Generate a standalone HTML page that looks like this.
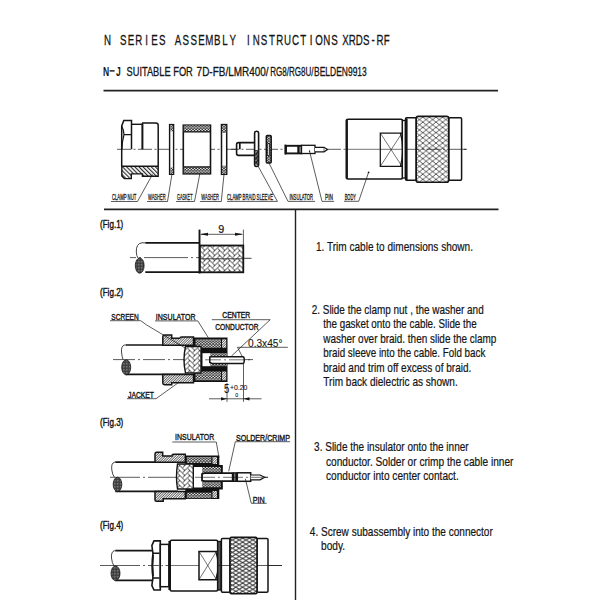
<!DOCTYPE html>
<html><head><meta charset="utf-8">
<style>
html,body{margin:0;padding:0;background:#fff;width:600px;height:600px;overflow:hidden}
svg{display:block}
.t{font-family:"Liberation Sans",sans-serif;fill:#151515}
.b{stroke:#151515;stroke-width:0.22}
.m{font-family:"Liberation Mono",monospace;fill:#151515;stroke:#151515;stroke-width:0.3}
.ti{font-family:"Liberation Sans",sans-serif;font-size:15.2px;fill:#151515;stroke:#151515;stroke-width:0.3}
.s2{stroke:#151515;stroke-width:0.3}
.ln{stroke:#222;fill:none}
</style></head><body>
<svg width="600" height="600" viewBox="0 0 600 600">
<defs>
<pattern id="hb" width="2.9" height="3" patternUnits="userSpaceOnUse" patternTransform="rotate(-45)"><rect width="2.9" height="3" fill="#fff"/><rect x="0" y="0" width="1.15" height="3" fill="#2a2a2a"/></pattern>
<pattern id="hf" width="1.75" height="3" patternUnits="userSpaceOnUse" patternTransform="rotate(45)"><rect width="1.75" height="3" fill="#fff"/><rect x="0" y="0" width="0.75" height="3" fill="#444"/></pattern>
<pattern id="dots" width="3.1" height="2.6" patternUnits="userSpaceOnUse"><rect width="3.1" height="2.6" fill="#2a2a2a"/><ellipse cx="0.78" cy="0.65" rx="0.8" ry="0.7" fill="#fff"/><ellipse cx="2.33" cy="1.95" rx="0.8" ry="0.7" fill="#fff"/></pattern>
<pattern id="knurl" width="6.6" height="5.2" patternUnits="userSpaceOnUse" x="416.2" y="117"><rect width="6.6" height="5.2" fill="#fff"/><path d="M0 0L6.6 5.2M0 5.2L6.6 0" stroke="#333" stroke-width="0.8"/></pattern>
<pattern id="knurl2" width="6.8" height="4.1" patternUnits="userSpaceOnUse" x="229" y="538"><rect width="6.8" height="4.1" fill="#fff"/><path d="M0 0L6.8 4.1M0 4.1L6.8 0" stroke="#333" stroke-width="0.95"/></pattern>
<pattern id="braid" width="10" height="5" patternUnits="userSpaceOnUse" x="199.8" y="245.5"><rect width="10" height="5" fill="#fff"/><g transform="rotate(45) scale(3.5355)" fill="#fff" stroke="#333" stroke-width="0.26"><rect x="-10" y="2" width="2" height="1"/><rect x="-8" y="1" width="1" height="2"/><rect x="-8" y="0" width="2" height="1"/><rect x="-6" y="-1" width="1" height="2"/><rect x="-6" y="-2" width="2" height="1"/><rect x="-4" y="-3" width="1" height="2"/><rect x="-4" y="-4" width="2" height="1"/><rect x="-2" y="-5" width="1" height="2"/><rect x="-2" y="-6" width="2" height="1"/><rect x="0" y="-7" width="1" height="2"/><rect x="0" y="-8" width="2" height="1"/><rect x="2" y="-9" width="1" height="2"/><rect x="2" y="-10" width="2" height="1"/><rect x="4" y="-11" width="1" height="2"/><rect x="-9" y="3" width="2" height="1"/><rect x="-7" y="2" width="1" height="2"/><rect x="-7" y="1" width="2" height="1"/><rect x="-5" y="0" width="1" height="2"/><rect x="-5" y="-1" width="2" height="1"/><rect x="-3" y="-2" width="1" height="2"/><rect x="-3" y="-3" width="2" height="1"/><rect x="-1" y="-4" width="1" height="2"/><rect x="-1" y="-5" width="2" height="1"/><rect x="1" y="-6" width="1" height="2"/><rect x="1" y="-7" width="2" height="1"/><rect x="3" y="-8" width="1" height="2"/><rect x="3" y="-9" width="2" height="1"/><rect x="5" y="-10" width="1" height="2"/><rect x="-8" y="4" width="2" height="1"/><rect x="-6" y="3" width="1" height="2"/><rect x="-6" y="2" width="2" height="1"/><rect x="-4" y="1" width="1" height="2"/><rect x="-4" y="0" width="2" height="1"/><rect x="-2" y="-1" width="1" height="2"/><rect x="-2" y="-2" width="2" height="1"/><rect x="0" y="-3" width="1" height="2"/><rect x="0" y="-4" width="2" height="1"/><rect x="2" y="-5" width="1" height="2"/><rect x="2" y="-6" width="2" height="1"/><rect x="4" y="-7" width="1" height="2"/><rect x="4" y="-8" width="2" height="1"/><rect x="6" y="-9" width="1" height="2"/><rect x="-7" y="5" width="2" height="1"/><rect x="-5" y="4" width="1" height="2"/><rect x="-5" y="3" width="2" height="1"/><rect x="-3" y="2" width="1" height="2"/><rect x="-3" y="1" width="2" height="1"/><rect x="-1" y="0" width="1" height="2"/><rect x="-1" y="-1" width="2" height="1"/><rect x="1" y="-2" width="1" height="2"/><rect x="1" y="-3" width="2" height="1"/><rect x="3" y="-4" width="1" height="2"/><rect x="3" y="-5" width="2" height="1"/><rect x="5" y="-6" width="1" height="2"/><rect x="5" y="-7" width="2" height="1"/><rect x="7" y="-8" width="1" height="2"/><rect x="-6" y="6" width="2" height="1"/><rect x="-4" y="5" width="1" height="2"/><rect x="-4" y="4" width="2" height="1"/><rect x="-2" y="3" width="1" height="2"/><rect x="-2" y="2" width="2" height="1"/><rect x="0" y="1" width="1" height="2"/><rect x="0" y="0" width="2" height="1"/><rect x="2" y="-1" width="1" height="2"/><rect x="2" y="-2" width="2" height="1"/><rect x="4" y="-3" width="1" height="2"/><rect x="4" y="-4" width="2" height="1"/><rect x="6" y="-5" width="1" height="2"/><rect x="6" y="-6" width="2" height="1"/><rect x="8" y="-7" width="1" height="2"/><rect x="-5" y="7" width="2" height="1"/><rect x="-3" y="6" width="1" height="2"/><rect x="-3" y="5" width="2" height="1"/><rect x="-1" y="4" width="1" height="2"/><rect x="-1" y="3" width="2" height="1"/><rect x="1" y="2" width="1" height="2"/><rect x="1" y="1" width="2" height="1"/><rect x="3" y="0" width="1" height="2"/><rect x="3" y="-1" width="2" height="1"/><rect x="5" y="-2" width="1" height="2"/><rect x="5" y="-3" width="2" height="1"/><rect x="7" y="-4" width="1" height="2"/><rect x="7" y="-5" width="2" height="1"/><rect x="9" y="-6" width="1" height="2"/><rect x="-4" y="8" width="2" height="1"/><rect x="-2" y="7" width="1" height="2"/><rect x="-2" y="6" width="2" height="1"/><rect x="0" y="5" width="1" height="2"/><rect x="0" y="4" width="2" height="1"/><rect x="2" y="3" width="1" height="2"/><rect x="2" y="2" width="2" height="1"/><rect x="4" y="1" width="1" height="2"/><rect x="4" y="0" width="2" height="1"/><rect x="6" y="-1" width="1" height="2"/><rect x="6" y="-2" width="2" height="1"/><rect x="8" y="-3" width="1" height="2"/><rect x="8" y="-4" width="2" height="1"/><rect x="10" y="-5" width="1" height="2"/><rect x="-3" y="9" width="2" height="1"/><rect x="-1" y="8" width="1" height="2"/><rect x="-1" y="7" width="2" height="1"/><rect x="1" y="6" width="1" height="2"/><rect x="1" y="5" width="2" height="1"/><rect x="3" y="4" width="1" height="2"/><rect x="3" y="3" width="2" height="1"/><rect x="5" y="2" width="1" height="2"/><rect x="5" y="1" width="2" height="1"/><rect x="7" y="0" width="1" height="2"/><rect x="7" y="-1" width="2" height="1"/><rect x="9" y="-2" width="1" height="2"/><rect x="9" y="-3" width="2" height="1"/><rect x="11" y="-4" width="1" height="2"/><rect x="-2" y="10" width="2" height="1"/><rect x="0" y="9" width="1" height="2"/><rect x="0" y="8" width="2" height="1"/><rect x="2" y="7" width="1" height="2"/><rect x="2" y="6" width="2" height="1"/><rect x="4" y="5" width="1" height="2"/><rect x="4" y="4" width="2" height="1"/><rect x="6" y="3" width="1" height="2"/><rect x="6" y="2" width="2" height="1"/><rect x="8" y="1" width="1" height="2"/><rect x="8" y="0" width="2" height="1"/><rect x="10" y="-1" width="1" height="2"/><rect x="10" y="-2" width="2" height="1"/><rect x="12" y="-3" width="1" height="2"/></g></pattern>
<pattern id="ell" width="1.5" height="1.5" patternUnits="userSpaceOnUse"><rect width="1.5" height="1.5" fill="#3a3a3a"/><rect width="0.6" height="0.6" fill="#bbb"/></pattern>
<pattern id="dk" width="3" height="3" patternUnits="userSpaceOnUse" patternTransform="rotate(45)"><rect width="3" height="3" fill="#2a2a2a"/><rect x="0" y="0.5" width="0.8" height="1.6" fill="#eee"/></pattern>
</defs>
<rect width="600" height="600" fill="#fff"/>
<!-- title -->
<text class="ti" transform="scale(0.64 1)" y="45.5" x="167.99 192.46 204.70 216.93 229.16 241.40 253.63 278.10 290.34 302.57 314.80 327.04 339.27 351.51 363.74 388.21 400.45 412.68 424.91 437.15 449.38 461.62 473.85 486.09 498.32 510.55 522.79" text-anchor="middle">NSERIESASSEMBLYINSTRUCTIONS</text>
<text class="ti" transform="scale(0.64 1)" y="45.5" x="539.77 550.55 561.33 572.11 582.89 593.67 604.45" text-anchor="middle">XRDS-RF</text>
<text class="t" transform="scale(0.7 1)" y="75.6" x="151.71 169.14" text-anchor="middle" font-size="12.2" font-weight="bold">NJ</text><rect x="109.6" y="70.2" width="5" height="1.4" fill="#151515"/>
<text class="t s2" x="126.5" y="75.5" font-size="12.2" textLength="66.3" lengthAdjust="spacingAndGlyphs">SUITABLE FOR</text>
<text class="t s2" x="196.6" y="75.5" font-size="12.2" textLength="72" lengthAdjust="spacingAndGlyphs">7D-FB/LMR400/</text>
<text class="t s2" x="270.3" y="75.5" font-size="12.2" textLength="43.3" lengthAdjust="spacingAndGlyphs">RG8/RG8U/</text>
<text class="t s2" x="314" y="75.5" font-size="12.2" textLength="52.8" lengthAdjust="spacingAndGlyphs">BELDEN9913</text>
<line class="ln" x1="103.5" y1="90.7" x2="498" y2="90.7" stroke-width="1.8"/>
<line class="ln" x1="104" y1="209.4" x2="498.5" y2="209.4" stroke-width="1.7"/>
<line class="ln" x1="295.5" y1="209" x2="295.5" y2="600" stroke-width="1.4"/>

<!-- right column text -->
<g class="t b" font-size="12.8">
<text x="316" y="251" textLength="157" lengthAdjust="spacingAndGlyphs">1. Trim cable to dimensions shown.</text>
<text x="311.7" y="313.7" textLength="172" lengthAdjust="spacingAndGlyphs">2. Slide the clamp nut , the washer and</text>
<text x="323.3" y="328.1" textLength="153.4" lengthAdjust="spacingAndGlyphs">the gasket onto the cable. Slide the</text>
<text x="323.3" y="342.6" textLength="173" lengthAdjust="spacingAndGlyphs">washer over braid. then slide the clamp</text>
<text x="323.3" y="357.1" textLength="162" lengthAdjust="spacingAndGlyphs">braid sleeve into the cable. Fold back</text>
<text x="323.3" y="371.6" textLength="148" lengthAdjust="spacingAndGlyphs">braid and trim off excess of braid.</text>
<text x="323.3" y="386.1" textLength="134.4" lengthAdjust="spacingAndGlyphs">Trim back dielectric as shown.</text>
<text x="314.1" y="450.6" textLength="154.5" lengthAdjust="spacingAndGlyphs">3. Slide the insulator onto the inner</text>
<text x="326" y="465.7" textLength="187.4" lengthAdjust="spacingAndGlyphs">conductor. Solder or crimp the cable inner</text>
<text x="326" y="479.8" textLength="132.7" lengthAdjust="spacingAndGlyphs">conductor into center contact.</text>
<text x="309.8" y="536.2" textLength="183" lengthAdjust="spacingAndGlyphs">4. Screw subassembly into the connector</text>
<text x="321" y="550.3" textLength="24" lengthAdjust="spacingAndGlyphs">body.</text>
</g>
<g class="t" font-size="10.2" stroke="#151515" stroke-width="0.4">
<text x="100" y="228" textLength="23.3" lengthAdjust="spacingAndGlyphs">(Fig.1)</text>
<text x="100" y="295.7" textLength="23.3" lengthAdjust="spacingAndGlyphs">(Fig.2)</text>
<text x="100" y="425.7" textLength="23.3" lengthAdjust="spacingAndGlyphs">(Fig.3)</text>
<text x="100" y="528.7" textLength="23.3" lengthAdjust="spacingAndGlyphs">(Fig.4)</text>
</g>
<!-- ===== TOP ROW ===== -->
<g stroke="#151515" fill="none">
<line x1="117" y1="149.3" x2="467" y2="149.3" stroke-width="0.70" stroke-dasharray="14 2.5 2 2.5"/>
<!-- clamp nut -->
<path d="M121.8 166.3 H158.2 V176.2 H142.4 V173.9 H131.3 V178.6 H124.3 L121.8 176 Z" fill="url(#hb)" stroke-width="1.40"/>
<path d="M121.7 166.3 V126 L123.8 120.5 H131.5 V149.3" stroke-width="1.50"/>
<path d="M121.7 126 Q123.8 130 124 134.6 H131.5 M124 134.6 Q122.2 141 121.9 149.3" stroke-width="1.20"/>
<path d="M131.3 124.3 H142" stroke-width="1.40"/>
<path d="M142.4 149.3 V123.3" stroke-width="2.00"/>
<path d="M142 123 H156 Q158.2 123 158.2 125.5 V166.3" stroke-width="1.50"/>
<!-- washer 1 -->
<rect x="169.6" y="124.6" width="4" height="49.7" fill="#fff" stroke-width="1.40"/>
<rect x="170.1" y="125" width="3" height="6.3" fill="url(#dots)" stroke="none"/>
<rect x="170.1" y="167.6" width="3" height="6.3" fill="url(#dots)" stroke="none"/>
<!-- gasket -->
<rect x="183.3" y="125.2" width="27.2" height="48.6" fill="#fff" stroke-width="1.60"/>
<rect x="183.8" y="125.4" width="26.2" height="6.5" fill="url(#dots)" stroke="none"/>
<rect x="183.8" y="167" width="26.2" height="6.3" fill="url(#dots)" stroke="none"/>
<path d="M183.3 131.9 H210.5 M183.3 166.9 H210.5" stroke-width="1.30"/>
<!-- washer 2 -->
<rect x="221.5" y="124.6" width="5.2" height="49.7" fill="#fff" stroke-width="1.50"/>
<rect x="222" y="125" width="4.2" height="8" fill="url(#dots)" stroke="none"/>
<rect x="222" y="165.7" width="4.2" height="8.2" fill="url(#dots)" stroke="none"/>
<!-- clamp braid sleeve -->
<path d="M255 142.6 H238.5 Q236.6 142.6 236.6 144.5 V153.5 Q236.6 155.4 238.5 155.4 H255" stroke-width="1.60" fill="#fff"/>
<line x1="231" y1="149.3" x2="254" y2="149.3" stroke-width="0.7" stroke-dasharray="8 2.5 2 2.5"/>
<path d="M239.8 142.6 V149.3" stroke-width="1.70"/>
<rect x="254.6" y="131.3" width="4" height="35.2" rx="2" fill="#fff" stroke-width="1.60"/>
<path d="M255.1 150 H258.1 V164.5 Q256.6 166 255.1 164.5 Z" fill="url(#dk)" stroke="none"/>
<!-- insulator -->
<rect x="266.3" y="135.6" width="4.9" height="27.4" rx="1" fill="url(#dots)" stroke-width="1.50"/>
<rect x="267.8" y="143.5" width="1.8" height="12" fill="#fff" stroke-width="0.80"/>
<!-- pin -->
<path d="M285.3 144.6 V154.5" stroke-width="1.80"/>
<rect x="286" y="145.8" width="15.5" height="7.6" fill="#fff" stroke-width="1.90"/>
<path d="M298.5 145.8 V153.4" stroke-width="2.40"/>
<rect x="301.5" y="145.3" width="13.5" height="8.2" fill="#fff" stroke-width="1.30"/>
<path d="M315 147.3 H324 L327.5 149.5 L324 151.8 H315" fill="#fff" stroke-width="1.20"/>
<path d="M324 147.3 V151.8" stroke-width="0.60"/>
<circle cx="309.5" cy="151" r="0.7" fill="#151515" stroke="none"/>
<!-- body -->
<rect x="346.5" y="119.2" width="56" height="59.8" rx="1.5" fill="#fff" stroke-width="1.60"/>
<path d="M346.8 119.5 V178.8" stroke-width="2.20"/>
<path d="M402.5 133 H380.3 V166.4 H402.5" stroke-width="1.25"/>
<path d="M380.3 133 L402 166.4 M380.3 166.4 L402 133" stroke-width="0.60"/>
<path d="M400.5 133 Q405 149.7 400.5 166.4" stroke-width="1.30"/>
<path d="M346.5 149.3 H404" stroke-width="0.60"/><circle cx="368.6" cy="172.3" r="0.9" fill="#151515" stroke="none"/>
<rect x="402.4" y="120.5" width="3" height="57.5" fill="#fff" stroke-width="1.30"/>
<rect x="405.5" y="117.8" width="10.8" height="62.5" rx="1.2" fill="#fff" stroke-width="1.50"/>
<path d="M406.6 118.5 V180" stroke-width="2.00"/>
<rect x="448.7" y="117.8" width="12.9" height="62.5" rx="1.2" fill="#fff" stroke-width="1.50"/>
<rect x="416.2" y="116.4" width="32.5" height="65.9" rx="2" fill="url(#knurl)" stroke-width="1.60"/>
<line x1="405.5" y1="149.3" x2="467" y2="149.3" stroke-width="0.70" stroke-dasharray="14 2.5 2 2.5"/>
</g>
<!-- top labels -->
<g stroke="#151515" stroke-width="0.70" fill="none">
<path d="M111 201.5 H137.5 L152.5 174.4"/>
<path d="M147 201.5 H167.5 L172 174"/>
<path d="M176 201.5 H194.5 L199.8 174"/>
<path d="M200 201.5 H221.3 L224 174.4"/>
<path d="M227 201.4 H277.4 L258 166"/>
<path d="M315 201.4 H288 L269 163"/>
<path d="M334 201.4 H322 L309.5 151"/>
<path d="M344 201.3 H358.7 L368.7 172"/>
</g>
<g class="t" font-size="8.3" stroke="#151515" stroke-width="0.3">
<text x="111.9" y="200" textLength="24.4" lengthAdjust="spacingAndGlyphs">CLAMP NUT</text>
<text x="148" y="200" textLength="17.6" lengthAdjust="spacingAndGlyphs">WASHER</text>
<text x="177" y="200" textLength="15.5" lengthAdjust="spacingAndGlyphs">GASKET</text>
<text x="201.3" y="200" textLength="17.5" lengthAdjust="spacingAndGlyphs">WASHER</text>
<text x="227" y="200" textLength="46" lengthAdjust="spacingAndGlyphs">CLAMP BRAID SLEEVE</text>
<text x="289.4" y="200" textLength="23.6" lengthAdjust="spacingAndGlyphs">INSULATOR</text>
<text x="325" y="200" textLength="8" lengthAdjust="spacingAndGlyphs">PIN</text>
<text x="344.7" y="200" textLength="11.3" lengthAdjust="spacingAndGlyphs">BODY</text>
</g>

<!-- ===== FIG 1 ===== -->
<g stroke="#151515" fill="none">
<line x1="130" y1="257.6" x2="243" y2="257.6" stroke-width="0.70" stroke-dasharray="6 3 2 3 44 3 2 3"/><line x1="243" y1="258.3" x2="251.5" y2="258.3" stroke-width="0.8"/>
<path d="M145.3 242.8 H199.3 M145.3 272.2 H199.3" stroke-width="1.70"/>
<path d="M145.3 242.8 H142 Q136 243.5 136.3 252 Q136.5 256 138 258" stroke-width="0.80"/>
<ellipse cx="139.7" cy="265.6" rx="4.4" ry="7.6" fill="url(#ell)" stroke-width="0.80"/>
<rect x="199.8" y="245.5" width="43.5" height="26.8" fill="url(#braid)" stroke-width="1.80"/>
<path d="M199.8 258.8 H243.3" stroke-width="0.80"/>
<path d="M199.5 229.6 V273.5" stroke-width="1.90"/>
<path d="M243.4 229.6 V245.5" stroke-width="0.70"/>
<path d="M201 234.3 H242" stroke-width="0.70"/>
<path d="M199.8 234.3 L208 232.8 V235.8 Z M243.2 234.3 L235 232.8 V235.8 Z" fill="#151515" stroke="none"/>
</g>
<text class="t" x="218.3" y="232.6" font-size="10.4" textLength="6" lengthAdjust="spacingAndGlyphs" stroke="#1a1a1a" stroke-width="0.20">9</text>

<!-- ===== FIG 2 ===== -->
<g stroke="#151515" fill="none">
<line x1="113" y1="359.6" x2="253" y2="359.6" stroke-width="0.70" stroke-dasharray="22 3 2 3"/>
<path d="M125.7 345 H186 M125.7 374.3 H186" stroke-width="1.70"/>
<path d="M125.7 345 H124.5 Q121 346 121.5 352 Q122 357 123 359.5" stroke-width="0.80"/>
<ellipse cx="126.2" cy="367.3" rx="4.5" ry="7.5" fill="url(#ell)" stroke-width="0.80"/>
<!-- clamp nut -->
<path d="M162.8 345.3 V336.7 Q162.8 335 164.5 335 H171.7 V338.3 H180 V338.5 Q180 337 181.5 337 H193.5 V345.3 Z" fill="url(#hf)" stroke-width="1.50"/>
<path d="M162.8 374.5 V383 Q162.8 384.7 164.5 384.7 H171.7 V382.7 H193.5 V374.5 Z" fill="url(#hf)" stroke-width="1.50"/>
<!-- sleeve -->
<rect x="193.5" y="337.5" width="34" height="44.5" fill="#111" stroke="none"/>
<rect x="195.5" y="339.3" width="25.5" height="8.5" fill="url(#dots)" stroke="none"/>
<rect x="195.5" y="371.5" width="25.5" height="8.8" fill="url(#dots)" stroke="none"/>
<rect x="222" y="339.3" width="4.2" height="8.5" fill="url(#hf)" stroke="none"/>
<rect x="222" y="371.5" width="4.2" height="8.8" fill="url(#hf)" stroke="none"/>
<rect x="210.5" y="353.2" width="16.5" height="3.6" fill="url(#dots)" stroke="none"/>
<rect x="210.5" y="362.5" width="16.5" height="3.7" fill="url(#dots)" stroke="none"/>
<rect x="202.5" y="353.2" width="8" height="13" fill="#fff" stroke="none"/>
<path d="M185.5 346.5 H201 V373 H185.5 Q182.5 360 185.5 346.5 Z" fill="url(#braid)" stroke-width="1.40"/>
<path d="M209.8 357 L212 356.8 H243 Q244.3 356.8 244.3 360.1 Q244.3 363.5 243 363.5 H212 L209.8 362.5 Z" fill="#fff" stroke-width="1.50"/>
<line x1="205" y1="359.8" x2="253" y2="359.8" stroke-width="0.60" stroke-dasharray="16 3 2 3"/>
<!-- labels lines -->
<path d="M110 320.7 H140.7 L146.7 325 L186 348.5" stroke-width="0.70"/>
<path d="M155 320.9 H197.8 L208.3 337.7" stroke-width="0.70"/>
<path d="M211.8 319.7 H270.2 L231.5 356" stroke-width="0.70"/>
<path d="M287.8 347.3 H237.5 L242 356" stroke-width="0.70"/>
<path d="M127 398.7 H156 L179.3 382" stroke-width="0.70"/>
<path d="M227 383 V401.8 M243.5 364 V401.8" stroke-width="0.70"/>
<path d="M209 398.8 H261.5" stroke-width="0.70"/>
<path d="M227 398.8 L221 397.2 V400.4 Z M243.5 398.8 L249.5 397.2 V400.4 Z" fill="#151515" stroke="none"/>
</g>
<g class="t" stroke="#151515" stroke-width="0.4">
<text x="111.3" y="319.5" font-size="9.6" textLength="27.4" lengthAdjust="spacingAndGlyphs">SCREEN</text>
<text x="155.8" y="319.6" font-size="9.6" textLength="39.7" lengthAdjust="spacingAndGlyphs">INSULATOR</text>
<text x="222.3" y="318" font-size="8.6" textLength="28" lengthAdjust="spacingAndGlyphs">CENTER</text>
<text x="215.3" y="329.7" font-size="9.4" textLength="43.2" lengthAdjust="spacingAndGlyphs">CONDUCTOR</text>
<text x="248" y="347" font-size="11.3" textLength="34.5" lengthAdjust="spacingAndGlyphs" stroke-width="0.10">0.3x45°</text>
<text x="128" y="397.5" font-size="9.6" textLength="26" lengthAdjust="spacingAndGlyphs">JACKET</text>
<text x="224" y="392.8" font-size="12.3" textLength="5.3" lengthAdjust="spacingAndGlyphs" stroke-width="0.10">5</text>
<text x="230" y="389.8" font-size="7.2" textLength="17.3" lengthAdjust="spacingAndGlyphs" stroke-width="0.10">+0.20</text>
<text x="235.2" y="396.5" font-size="6.2" textLength="3" lengthAdjust="spacingAndGlyphs" stroke-width="0.10">0</text>
</g>

<!-- ===== FIG 3 ===== -->
<g stroke="#151515" fill="none">
<line x1="110" y1="477.3" x2="268" y2="477.3" stroke-width="0.70" stroke-dasharray="30 3 2 3"/>
<path d="M115.3 462.2 H178 M115.3 491.4 H178" stroke-width="1.70"/>
<path d="M115.3 462.2 H114.5 Q111 463 111.8 470 Q112.5 475 114.5 477.3" stroke-width="0.80"/>
<ellipse cx="117.5" cy="484.4" rx="4.3" ry="7.2" fill="url(#ell)" stroke-width="0.80"/>
<!-- clamp nut -->
<path d="M155 462.2 V454 Q155 452.3 156.7 452.3 H162.7 V456 H172 V455.8 Q172 454.3 173.5 454.3 H185.3 V462.2 Z" fill="url(#hf)" stroke-width="1.50"/>
<path d="M155 491.4 V500 Q155 501.3 156.5 501.3 H163.2 V498.7 H185.3 V491.4 Z" fill="url(#hf)" stroke-width="1.50"/>
<!-- sleeve -->
<rect x="185.3" y="455.5" width="34" height="43.5" fill="#111" stroke="none"/>
<rect x="219" y="465" width="3.8" height="24.5" fill="#111" stroke="none"/>
<rect x="186.8" y="457" width="24.5" height="6" fill="url(#dots)" stroke="none"/>
<rect x="186.8" y="492.6" width="24.5" height="5.6" fill="url(#dots)" stroke="none"/>
<rect x="212.5" y="457" width="4.5" height="7" fill="url(#hf)" stroke="none"/>
<rect x="212.5" y="491" width="4.5" height="7" fill="url(#hf)" stroke="none"/>
<rect x="202.3" y="467" width="18.5" height="6" fill="url(#dots)" stroke="none"/>
<rect x="202.3" y="481" width="18.5" height="6.3" fill="url(#dots)" stroke="none"/>
<rect x="193.3" y="467" width="9" height="20.5" fill="#fff" stroke="none"/>
<path d="M177.5 464 H193.3 V489 H177.5 Q175.5 476.5 177.5 464 Z" fill="url(#braid)" stroke-width="1.40"/>
<path d="M202 474 L204.5 473.2 H232.7 V481.2 H204.5 L202 480.5 Z" fill="#fff" stroke-width="1.8"/>
<rect x="232.7" y="472.2" width="4.6" height="9.8" fill="#151515" stroke="none"/>
<rect x="234" y="473.5" width="1.5" height="7.2" fill="#777" stroke="none"/>
<rect x="237.3" y="472.8" width="13.4" height="8.5" fill="#fff" stroke-width="1.50"/>
<path d="M250.7 475 H260 L264.7 477.3 L260 479.8 H250.7" fill="#fff" stroke-width="1.20"/>
<line x1="195" y1="477.3" x2="268" y2="477.3" stroke-width="0.60" stroke-dasharray="20 3 2 3"/>
<path d="M172.3 442 H216.3 L219 457.7" stroke-width="0.70"/>
<path d="M290 441.7 H235.3 L228.7 471.3" stroke-width="0.70"/>
<path d="M266.7 503.3 H251.3 L245.3 478.7" stroke-width="0.70"/>
</g>
<g class="t" stroke="#151515" stroke-width="0.4" font-size="9.8">
<text x="175" y="440.3" textLength="39.3" lengthAdjust="spacingAndGlyphs">INSULATOR</text>
<text x="236" y="440.7" textLength="54" lengthAdjust="spacingAndGlyphs">SOLDER/CRIMP</text>
<text x="252.7" y="502.7" textLength="12" lengthAdjust="spacingAndGlyphs">PIN</text>
</g>

<!-- ===== FIG 4 ===== -->
<g stroke="#151515" fill="none">
<line x1="100" y1="565.5" x2="282" y2="565.5" stroke-width="0.70" stroke-dasharray="40 3 2 3"/>
<path d="M115.3 550.7 H152 M115.3 580.4 H152" stroke-width="1.70"/>
<path d="M115.3 550.7 H114.5 Q111 551.5 111.5 558 Q112 563 114 566" stroke-width="0.80"/>
<ellipse cx="115.5" cy="573.3" rx="4.5" ry="7.3" fill="url(#ell)" stroke-width="0.80"/>
<!-- hex nut -->
<path d="M154 540.9 H160.3 V590 H154 L151.9 585.5 Q152.3 581.5 153 578 Q151.2 565.5 153 553.3 Q152.3 549.5 151.9 545.5 Z" fill="#fff" stroke-width="1.60"/>
<path d="M152.5 553.3 H159.6 M152.5 578 H159.6" stroke-width="1.40"/>
<path d="M153.6 555 Q152.4 565.5 153.6 576" stroke-width="0.8"/>
<rect x="160.3" y="544.4" width="8.6" height="42.3" fill="#fff" stroke-width="1.50"/>
<line x1="153" y1="565.5" x2="169" y2="565.5" stroke-width="0.7" stroke-dasharray="6 2.5 1.5 2.5"/>
<path d="M169.4 541 V590" stroke-width="2.00"/>
<!-- body -->
<rect x="170.2" y="540.2" width="47.5" height="50.8" rx="1.5" fill="#fff" stroke-width="1.60"/>
<path d="M217.7 551.4 H199 V579.7 H217.7" stroke-width="1.50"/>
<path d="M199 551.4 L216.5 579.7 M199 579.7 L216.5 551.4" stroke-width="0.60"/>
<path d="M215.8 551.4 Q220.5 565.5 215.8 579.7" stroke-width="1.30"/>
<path d="M170.2 565.5 H199" stroke-width="0.60"/>
<rect x="217.7" y="541.5" width="3.4" height="48.5" fill="#555" stroke-width="1.30"/>
<rect x="221.4" y="538.4" width="8.6" height="53.9" rx="1.2" fill="#fff" stroke-width="1.50"/>
<rect x="257" y="538.4" width="11" height="53.9" rx="1.2" fill="#fff" stroke-width="1.50"/>
<rect x="230" y="537.4" width="27" height="56.3" rx="1.5" fill="url(#knurl2)" stroke-width="1.60"/>
<line x1="217" y1="565.5" x2="230" y2="565.5" stroke-width="0.7"/><line x1="257" y1="565.5" x2="282" y2="565.5" stroke-width="0.7"/>
</g>

<!--DRAW-->
</svg>
</body></html>
